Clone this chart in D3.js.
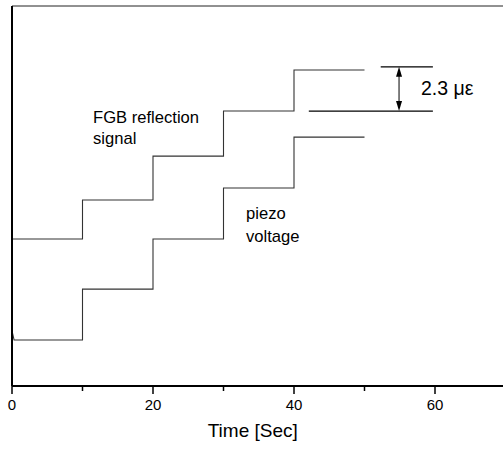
<!DOCTYPE html>
<html>
<head>
<meta charset="utf-8">
<script src="https://cdnjs.cloudflare.com/ajax/libs/d3/7.8.5/d3.min.js"></script>
<style>
  body { margin: 0; background: #fff; }
  svg { display: block; font-family: Arial, "Liberation Sans", sans-serif; }
</style>
</head>
<body>
<div id="chart"></div>
<script>
// step times (sec) and levels (microstrain)
var stepTimes = [0, 10, 20, 30, 40, 50];
var fgbLevels = [7.74, 9.79, 12.1, 14.47, 16.63];
var piezoLevels = [2.42, 5.1, 7.74, 10.42, 13.1];
var piezoStart = 2.9;
var xTicks = [0, 20, 40, 60];
var xMinor = [10, 30, 50];
var annoTop = 16.8, annoBottom = 14.47;

var W = 503, H = 452;
var margin = {top: 6, left: 12, bottom: 66};
var width = 70 * 7.05,
    height = H - margin.top - margin.bottom;

var x = d3.scaleLinear().domain([0, 70]).range([0, width]);
var y = d3.scaleLinear().domain([0, 20]).range([height, 0]);

var svg = d3.select("#chart").append("svg")
    .attr("width", W)
    .attr("height", H)
  .append("g")
    .attr("transform", "translate(" + margin.left + "," + margin.top + ")");

function stepPoints(levels) {
  var pts = [];
  for (var i = 0; i < levels.length; i++) {
    pts.push([stepTimes[i], levels[i]]);
    pts.push([stepTimes[i + 1], levels[i]]);
  }
  return pts;
}

var line = d3.line()
  .x(function(d) { return x(d[0]); })
  .y(function(d) { return y(d[1]); });

var fgb = stepPoints(fgbLevels);
var piezo = [[0, piezoStart], [0.3, piezoLevels[0]]].concat(stepPoints(piezoLevels).slice(1));

[fgb, piezo].forEach(function(s) {
  svg.append("path")
    .datum(s)
    .attr("d", line)
    .attr("fill", "none")
    .attr("stroke", "#333")
    .attr("stroke-width", 1.1);
});

// frame
svg.append("line").attr("x1", 0).attr("x2", width).attr("y1", 0).attr("y2", 0)
  .attr("stroke", "#222").attr("stroke-width", 1);
svg.append("line").attr("x1", 0).attr("x2", 0).attr("y1", 0).attr("y2", height)
  .attr("stroke", "#000").attr("stroke-width", 2);

var xAxis = svg.append("g")
  .attr("transform", "translate(0," + height + ")");
xAxis.append("line").attr("x1", 0).attr("x2", width)
  .attr("stroke", "#000").attr("stroke-width", 2);
xAxis.selectAll(".major").data(xTicks).enter().append("line")
  .attr("x1", x).attr("x2", x).attr("y1", 0).attr("y2", 8)
  .attr("stroke", "#000").attr("stroke-width", 1.5);
xAxis.selectAll(".minor").data(xMinor).enter().append("line")
  .attr("x1", x).attr("x2", x).attr("y1", 0).attr("y2", 5)
  .attr("stroke", "#000").attr("stroke-width", 1.5);
xAxis.selectAll("text").data(xTicks).enter().append("text")
  .attr("x", x).attr("y", 24)
  .attr("text-anchor", "middle")
  .attr("font-size", 15)
  .text(function(d) { return d; });

svg.append("text")
  .attr("x", x(35) - 6).attr("y", 437 - margin.top)
  .attr("text-anchor", "middle")
  .attr("font-size", 19)
  .text("Time [Sec]");

// labels
svg.append("text").attr("x", 93 - margin.left).attr("y", 123 - margin.top)
  .attr("font-size", 16.6).text("FGB reflection");
svg.append("text").attr("x", 93 - margin.left).attr("y", 144 - margin.top)
  .attr("font-size", 16.6).text("signal");
svg.append("text").attr("x", 246 - margin.left).attr("y", 219 - margin.top)
  .attr("font-size", 16.6).text("piezo");
svg.append("text").attr("x", 246 - margin.left).attr("y", 242 - margin.top)
  .attr("font-size", 16.6).text("voltage");

// 2.3 microstrain annotation
svg.append("line")
  .attr("x1", x(52.3)).attr("x2", x(59.7))
  .attr("y1", y(annoTop)).attr("y2", y(annoTop))
  .attr("stroke", "#000").attr("stroke-width", 1.3);
svg.append("line")
  .attr("x1", x(42.1)).attr("x2", x(59.7))
  .attr("y1", y(annoBottom)).attr("y2", y(annoBottom))
  .attr("stroke", "#000").attr("stroke-width", 1.3);
var ax = x(54.9);
svg.append("line")
  .attr("x1", ax).attr("x2", ax)
  .attr("y1", y(annoTop) + 6).attr("y2", y(annoBottom) - 6)
  .attr("stroke", "#000").attr("stroke-width", 1);
svg.append("path")
  .attr("d", "M" + ax + "," + y(annoTop) + "l-3,10h6z")
  .attr("fill", "#000");
svg.append("path")
  .attr("d", "M" + ax + "," + y(annoBottom) + "l-3,-10h6z")
  .attr("fill", "#000");
svg.append("text")
  .attr("x", 421 - margin.left).attr("y", 95 - margin.top)
  .attr("font-size", 19.5)
  .text("2.3 \u03bc\u03b5");
</script>
</body>
</html>
